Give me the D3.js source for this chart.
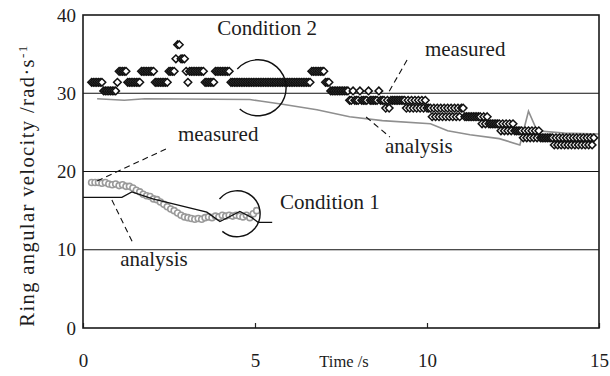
<!DOCTYPE html>
<html>
<head>
<meta charset="utf-8">
<script src="https://cdn.jsdelivr.net/npm/d3@7"></script>
<style>
  body { margin: 0; background: #fff; }
  svg { display: block; }
  text { font-family: "Liberation Serif", "Times New Roman", serif; fill: #1c1c1c; }
</style>
</head>
<body>
<svg id="chart" width="610" height="376"></svg>
<script>
// ---- axes ----
const xTicks = [0, 5, 10, 15];
const yTicks = [0, 10, 20, 30, 40];
const gridValues = [10, 20, 30];

// ---- Condition 2, measured (rad/s), one sample every 0.05 s from 0.25 s ----
const c2MeasuredStart = 0.25;
const c2MeasuredStep = 0.05;
const c2Measured = [
  31.4,31.4,31.4,31.4,31.4,31.4,31.4,30.3,30.3,30.3,30.3,30.3,30.3,30.3,30.3,
  31.4,32.8,32.8,32.8,32.8,32.8,31.4,31.4,31.4,31.4,31.4,31.4,31.4,31.4,32.8,32.8,32.8,32.8,32.8,32.8,
  32.8,32.8,31.4,31.4,31.4,31.4,31.4,31.4,31.4,31.4,32.8,32.8,32.8,32.8,34.4,36.2,36.2,34.4,34.4,34.4,
  32.8,31.4,32.8,32.8,32.8,32.8,32.8,32.8,32.8,32.8,32.8,31.4,31.4,31.4,31.4,31.4,31.4,32.8,32.8,32.8,
  32.8,32.8,32.8,32.8,32.8,32.8,31.4,31.4,31.4,31.4,31.4,31.4,31.4,31.4,31.4,31.4,31.4,31.4,31.4,31.4,
  31.4,31.4,31.4,31.4,31.4,31.4,31.4,31.4,31.4,31.4,31.4,31.4,31.4,31.4,31.4,31.4,31.4,31.4,31.4,31.4,
  31.4,31.4,31.4,31.4,31.4,31.4,31.4,31.4,31.4,31.4,31.4,31.4,31.4,32.8,32.8,32.8,32.8,32.8,32.8,32.8,
  32.8,31.4,31.4,31.4,30.3,30.3,30.3,30.3,30.3,30.3,30.3,30.3,30.3,30.3,30.3,29.1,29.1,30.3,29.1,29.1,
  29.1,30.3,29.1,29.1,29.1,29.1,30.3,29.1,29.1,29.1,29.1,29.1,30.3,29.1,29.1,29.1,28.1,29.1,28.1,29.1,
  29.1,29.1,29.1,29.1,29.1,29.1,29.1,29.1,28.1,29.1,28.1,29.1,28.1,29.1,28.1,29.1,28.1,29.1,28.1,29.1,
  28.1,28.1,28.1,27.0,28.1,27.0,28.1,27.0,28.1,27.0,28.1,27.0,28.1,27.0,28.1,27.0,28.1,27.0,28.1,27.0,
  28.1,28.1,27.0,27.0,27.0,27.0,27.0,27.0,27.0,27.0,27.0,27.0,26.1,27.0,26.1,27.0,26.1,26.1,26.1,26.1,
  26.1,26.1,26.1,25.2,26.1,25.2,26.1,25.2,26.1,25.2,26.1,25.2,25.2,25.2,25.2,25.2,24.3,25.2,24.3,25.2,
  24.3,25.2,24.3,25.2,24.3,25.2,24.3,24.3,24.3,24.3,24.3,24.3,24.3,24.3,23.4,24.3,23.4,24.3,23.4,24.3,
  23.4,24.3,23.4,24.3,23.4,24.3,23.4,24.3,23.4,24.3,23.4,24.3,23.4,24.3,23.4,24.3,23.4,24.3
];

// ---- Condition 2, analysis ----
const c2AnalysisTime = [0.41, 1.2, 1.8, 4.85, 5.15, 5.8, 6.8, 7.75, 8.7, 10.1, 10.6, 11.25, 12.1, 12.7, 12.95, 13.2, 14.0, 15.0];
const c2AnalysisVel  = [29.3, 29.1, 29.3, 29.2, 29.0, 28.6, 27.9, 27.0, 26.5, 26.1, 25.2, 24.7, 24.2, 23.4, 27.7, 25.2, 24.9, 24.8];

// ---- Condition 1, measured (rad/s), one sample every 0.1 s from 0.25 s ----
const c1MeasuredStart = 0.25;
const c1MeasuredStep = 0.1;
const c1Measured = [
  18.6,18.6,18.6,18.5,18.6,18.4,18.3,18.4,18.2,18.3,
  18.1,18.1,17.9,17.6,17.4,17.1,16.9,16.8,16.5,16.4,
  16.1,15.8,15.5,15.2,15.0,14.7,14.4,14.2,14.1,14.0,
  13.9,14.0,13.9,14.1,14.2,14.1,14.3,14.2,14.4,14.3,
  14.4,14.3,14.4,14.3,14.2,14.4,14.1,14.6,15.0
];

// ---- Condition 1, analysis ----
const c1AnalysisTime = [0, 1.13, 1.42, 2.03, 3.6, 3.98, 4.56, 4.91, 5.09, 5.5];
const c1AnalysisVel  = [16.7, 16.7, 17.4, 16.5, 14.8, 13.6, 14.9, 14.1, 13.5, 13.5];

// ---- annotations (data coordinates) ----
const labels = [
  { text: "Condition 2", t: 3.9,  v: 37.4 },
  { text: "Condition 1", t: 5.73, v: 15.2 },
  { text: "measured",    t: 9.94, v: 34.7 },
  { text: "analysis",    t: 8.78, v: 22.4 },
  { text: "measured",    t: 2.76, v: 23.9 },
  { text: "analysis",    t: 1.08, v: 7.9 }
];
const leaders = [
  { t1: 9.42, v1: 34.25, t2: 8.87, v2: 30.0 },
  { t1: 8.23, v1: 26.96, t2: 8.92, v2: 24.41 },
  { t1: 0.41, v1: 18.79, t2: 2.41, v2: 22.88 },
  { t1: 0.84, v1: 16.36, t2: 1.45, v2: 10.86 }
];
const rings = [
  { t: 5.09, v: 30.7, r: 28, a0: -138, a1: 131 },
  { t: 4.48, v: 14.6, r: 23, a0: -140, a1: 130 }
];

// ---- layout ----
const svg = d3.select("#chart");
const x = d3.scaleLinear().domain([0, 15]).range([83, 599]);
const y = d3.scaleLinear().domain([0, 40]).range([328, 15]);

// grid
svg.append("g").selectAll("line").data(gridValues).join("line")
  .attr("x1", x(0)).attr("x2", x(15))
  .attr("y1", d => y(d)).attr("y2", d => y(d))
  .attr("stroke", "#111").attr("stroke-width", 1);

// x axis: inner ticks, labels well below
const xAxis = svg.append("g").attr("transform", `translate(0,${y(0)})`)
  .call(d3.axisBottom(x).tickValues(xTicks).tickSizeInner(-5).tickSizeOuter(0).tickPadding(26));
xAxis.select(".domain").remove();
xAxis.selectAll("line").attr("stroke", "#222").attr("stroke-width", 1.2);
xAxis.selectAll("text").attr("font-size", 19).attr("font-family", "Liberation Serif").attr("fill", "#1c1c1c");

svg.append("text").attr("x", 344).attr("y", 367).attr("text-anchor", "middle")
  .attr("font-size", 16.5).text("Time /s");

// y axis
const yAxis = svg.append("g").attr("transform", `translate(${x(0)},0)`)
  .call(d3.axisLeft(y).tickValues(yTicks).tickSize(0).tickPadding(7));
yAxis.select(".domain").remove();
yAxis.selectAll("text").attr("font-size", 19).attr("font-family", "Liberation Serif").attr("fill", "#1c1c1c");

const yTitle = svg.append("text")
  .attr("transform", `translate(34,${(y(0) + y(40)) / 2 + 14}) rotate(-90)`)
  .attr("text-anchor", "middle").attr("font-size", 20.5).attr("letter-spacing", 1.4);
yTitle.append("tspan").text("Ring angular velocity /rad·s");
yTitle.append("tspan").attr("dy", "-0.55em").attr("font-size", 13).text("-1");

// Condition 2 analysis (grey line)
const line = d3.line().x(d => x(d[0])).y(d => y(d[1]));
svg.append("path")
  .datum(c2AnalysisTime.map((t, i) => [t, c2AnalysisVel[i]]))
  .attr("d", line).attr("fill", "none").attr("stroke", "#8f8f8f").attr("stroke-width", 1.6);

// Condition 2 measured (diamonds)
const dr = 3.8;
svg.append("g").selectAll("path")
  .data(c2Measured.map((v, i) => [c2MeasuredStart + i * c2MeasuredStep, v]))
  .join("path")
  .attr("transform", d => `translate(${x(d[0])},${y(d[1])})`)
  .attr("d", `M0,${-dr}L${dr},0L0,${dr}L${-dr},0Z`)
  .attr("fill", "#fff").attr("stroke", "#111").attr("stroke-width", 1.5);

// Condition 1 measured (grey circles)
svg.append("g").selectAll("circle")
  .data(c1Measured.map((v, i) => [c1MeasuredStart + i * c1MeasuredStep, v]))
  .join("circle")
  .attr("cx", d => x(d[0])).attr("cy", d => y(d[1])).attr("r", 3)
  .attr("fill", "#fff").attr("stroke", "#9a9a9a").attr("stroke-width", 1.6);

// Condition 1 analysis (black line)
svg.append("path")
  .datum(c1AnalysisTime.map((t, i) => [t, c1AnalysisVel[i]]))
  .attr("d", line).attr("fill", "none").attr("stroke", "#111").attr("stroke-width", 1.3);

// rings around the end of each run
rings.forEach(c => {
  const p = d3.path();
  const rad = a => a * Math.PI / 180;
  p.arc(x(c.t), y(c.v), c.r, rad(c.a0), rad(c.a1));
  svg.append("path").attr("d", p.toString()).attr("fill", "none")
    .attr("stroke", "#111").attr("stroke-width", 1.4);
});

// dashed leaders
svg.append("g").selectAll("line").data(leaders).join("line")
  .attr("x1", d => x(d.t1)).attr("y1", d => y(d.v1))
  .attr("x2", d => x(d.t2)).attr("y2", d => y(d.v2))
  .attr("stroke", "#111").attr("stroke-width", 1.1).attr("stroke-dasharray", "6,4");

// labels
svg.append("g").selectAll("text").data(labels).join("text")
  .attr("x", d => x(d.t)).attr("y", d => y(d.v))
  .attr("font-size", 21).text(d => d.text);

// frame
svg.append("rect").attr("x", x(0)).attr("y", y(40))
  .attr("width", x(15) - x(0)).attr("height", y(0) - y(40))
  .attr("fill", "none").attr("stroke", "#1a1a1a").attr("stroke-width", 1.6);
</script>
</body>
</html>
